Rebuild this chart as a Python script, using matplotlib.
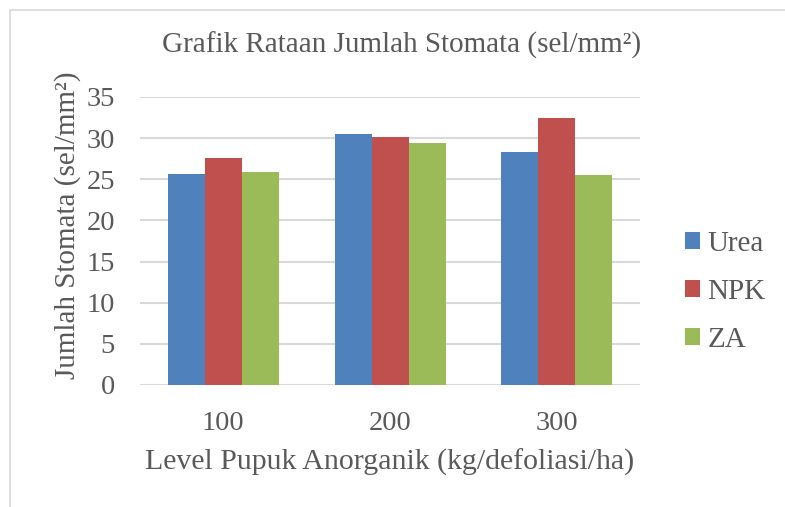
import numpy as np
import matplotlib.pyplot as plt
from matplotlib.patches import Rectangle

levels = ["100", "200", "300"]
series = ["Urea", "NPK", "ZA"]
urea = [25.7, 30.5, 28.3]
npk = [27.6, 30.1, 32.4]
za = [25.9, 29.4, 25.5]
colors = ["#4f81bd", "#c0504d", "#9bbb59"]

plt.rcParams["font.family"] = ["Liberation Serif", "DejaVu Serif"]
txt = "#595959"

fig = plt.figure(figsize=(7.85, 5.07), dpi=100)
ax = fig.add_axes([140/785, 1-385/507, 500/785, 288/507])

# chart frame
fig.patches.append(Rectangle((10/785, -0.1), 1.2, 1-10/507+0.1, transform=fig.transFigure,
                             fill=False, edgecolor="#d9d9d9", linewidth=1.2))

x = np.arange(len(levels))
w = 0.222
for i, (name, vals) in enumerate(zip(series, [urea, npk, za])):
    ax.bar(x + (i-1)*w, vals, w, color=colors[i], label=name, zorder=3)

ax.set_xlim(-0.5, 2.5)
ax.set_ylim(0, 35)
ax.set_yticks(range(0, 36, 5))
ax.set_xticks(x)
ax.set_xticklabels(levels)
ax.grid(axis="y", color="#d9d9d9", linewidth=1.5, zorder=0)
for s in ax.spines.values():
    s.set_visible(False)
ax.tick_params(length=0, labelsize=20.5, labelcolor=txt)
ax.tick_params(axis="x", pad=19)
ax.tick_params(axis="y", pad=18)

ax.set_xlabel("Level Pupuk Anorganik (kg/defoliasi/ha)", fontsize=21.5, color=txt, labelpad=9)
ax.set_ylabel("Jumlah Stomata (sel/mm²)", fontsize=21, color=txt)
ax.yaxis.set_label_coords(-0.117, 0.555)
fig.text(402/785, 1-45/507, "Grafik Rataan Jumlah Stomata (sel/mm²)", fontsize=21,
         color=txt, ha="center", va="center")

fig.legend(loc="center left", bbox_to_anchor=(685/785, 1-292/507), frameon=False,
           fontsize=21, labelcolor=txt, handlelength=0.52, handleheight=0.52,
           handletextpad=0.25, labelspacing=0.76, borderpad=0, borderaxespad=0)

fig.savefig("out.png", dpi=100)
